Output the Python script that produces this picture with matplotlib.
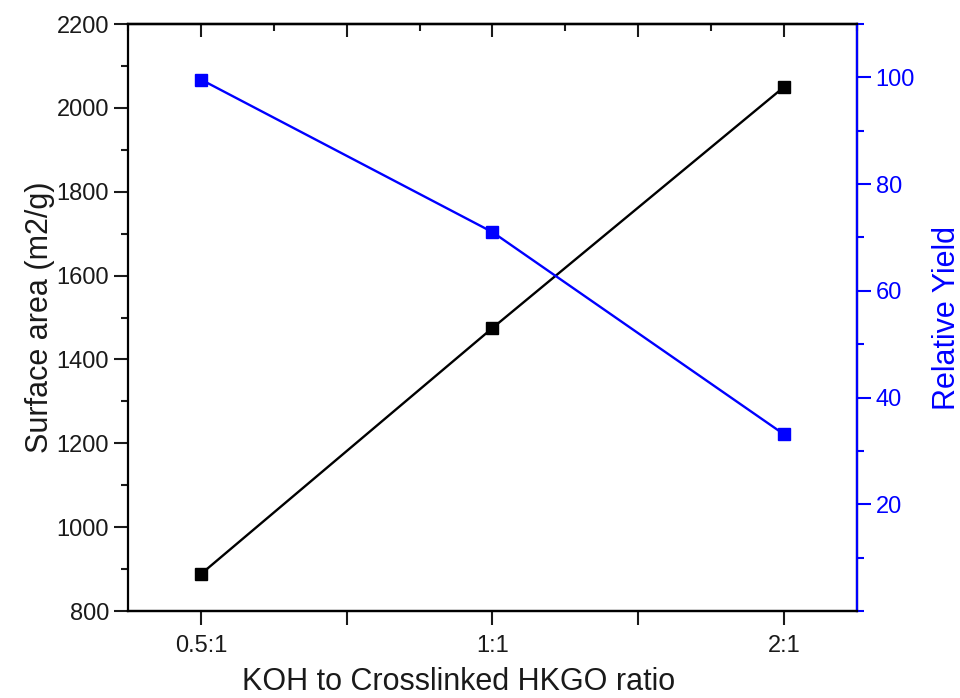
import matplotlib
matplotlib.use("Agg")
import matplotlib.pyplot as plt
from matplotlib.ticker import MultipleLocator

plt.rcParams["font.family"] = ["Liberation Sans", "DejaVu Sans"]

ratios = ["0.5:1", "1:1", "2:1"]
surface_area = [888, 1475, 2050]
relative_yield = [99.6, 71.0, 33.1]

blue = "#0000ff"
dark = "#1a1a1a"

fig = plt.figure(figsize=(9.6, 6.98), dpi=100)
ax = fig.add_axes([0.1333, 0.1246, 0.7594, 0.841])
ax2 = ax.twinx()

x = [1, 2, 3]
ax.plot(x, surface_area, color="black", lw=1.7, marker="s", ms=8.5)
ax2.plot(x, relative_yield, color=blue, lw=1.7, marker="s", ms=8.5)

ax.set_xlim(0.75, 3.25)
ax.set_ylim(800, 2200)
ax2.set_ylim(0, 110)

ax.set_xticks([1, 1.5, 2, 2.5, 3])
ax.set_xticklabels([ratios[0], "", ratios[1], "", ratios[2]])
ax.yaxis.set_major_locator(MultipleLocator(200))
ax.yaxis.set_minor_locator(MultipleLocator(100))
ax2.set_yticks([20, 40, 60, 80, 100])
ax2.yaxis.set_minor_locator(MultipleLocator(10))

for s in ax.spines.values():
  s.set_linewidth(1.6)
for s in ax2.spines.values():
  s.set_linewidth(1.6)
ax2.spines["right"].set_color(blue)
ax2.spines["left"].set_visible(False)

ax.tick_params(axis="both", which="major", direction="out", length=10, width=1.5, labelsize=17, colors=dark)
ax.tick_params(axis="y", which="minor", direction="out", length=5, width=1.5, colors=dark)
ax.tick_params(axis="x", pad=7)
ax2.tick_params(axis="y", which="major", direction="out", length=10, width=1.5, labelsize=17, colors=blue)
ax2.tick_params(axis="y", which="minor", direction="out", length=5, width=1.5, colors=blue)

# top axis with inward ticks
top = ax.secondary_xaxis("top")
top.set_xticks([1, 1.5, 2, 2.5, 3])
top.set_xticklabels([])
top.xaxis.set_minor_locator(MultipleLocator(0.25))
top.tick_params(which="major", direction="in", length=9, width=1.5, colors=dark)
top.tick_params(which="minor", direction="in", length=5, width=1.5, colors=dark)
top.spines["top"].set_linewidth(1.6)

ax.set_xlabel("KOH to Crosslinked HKGO ratio", fontsize=22, color=dark)
ax.xaxis.set_label_coords(0.453, -0.095)
ax.set_ylabel("Surface area (m2/g)", fontsize=22, color=dark, labelpad=1)
ax2.set_ylabel("Relative Yield", fontsize=22, color=blue, labelpad=12)

fig.savefig("out.png", dpi=100)
